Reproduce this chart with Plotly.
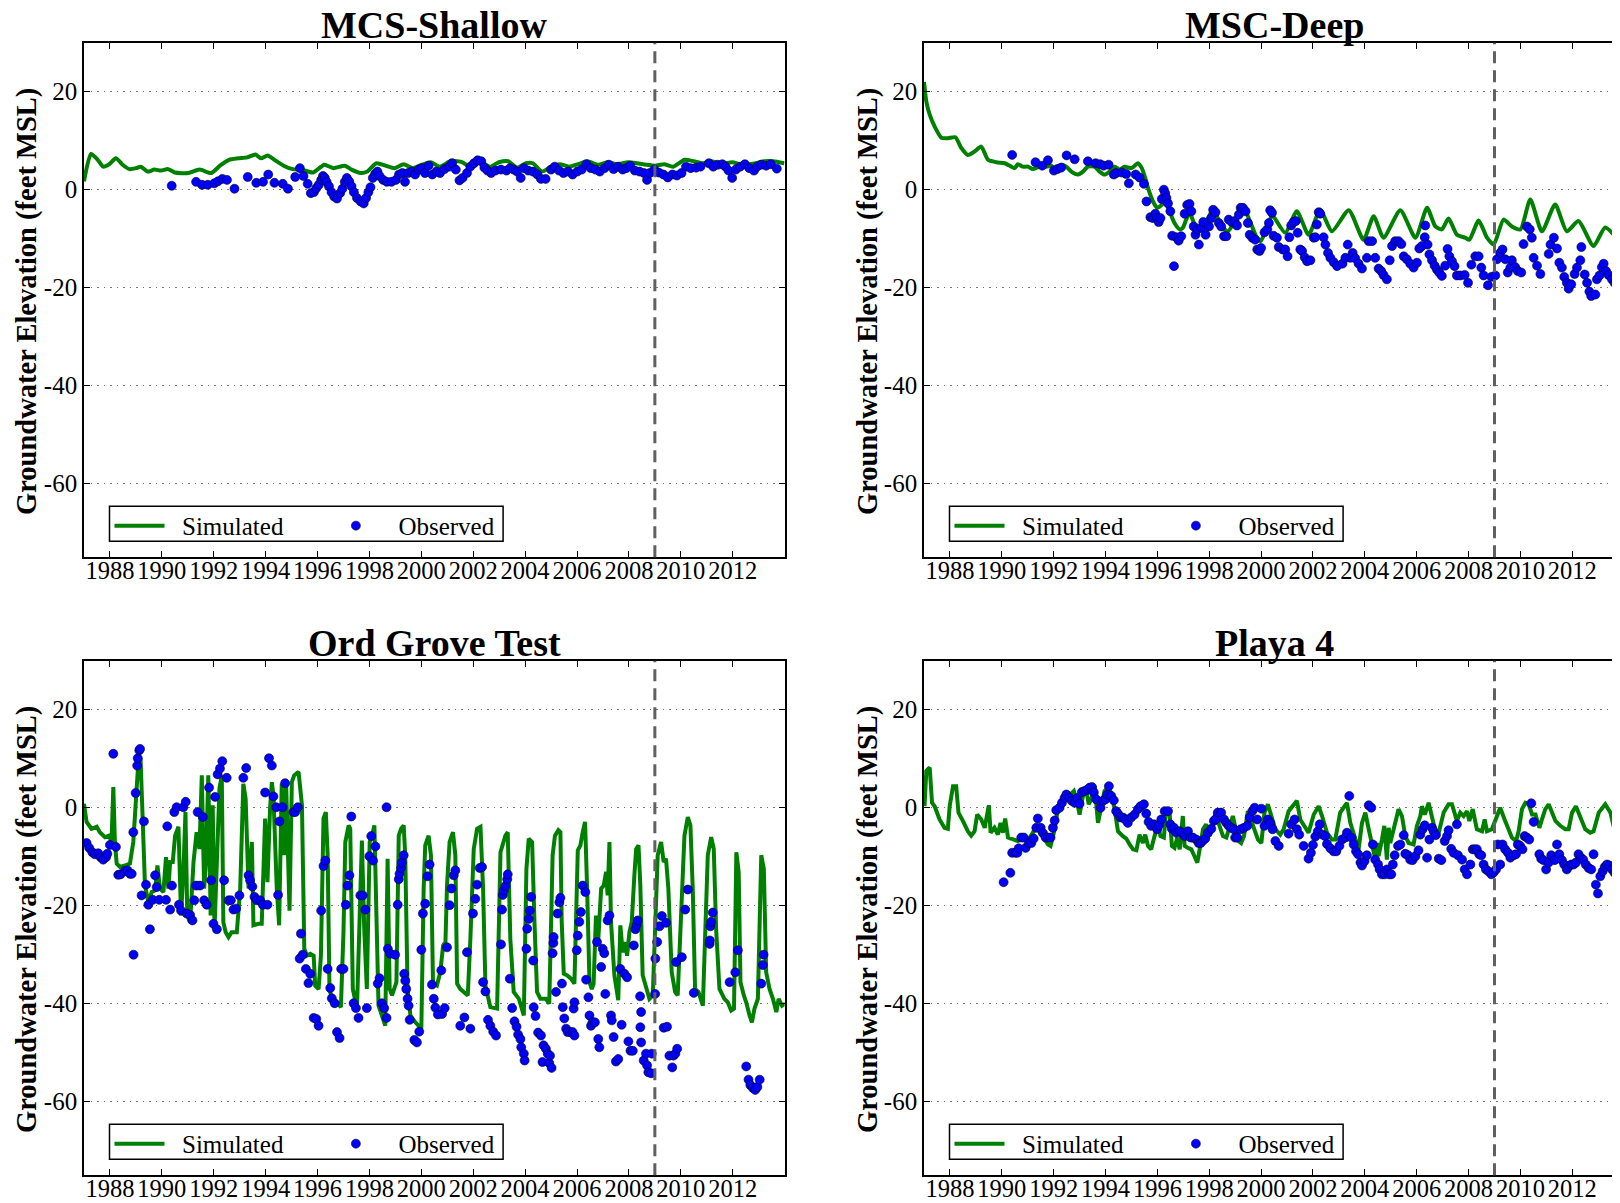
import plotly.graph_objects as go

# ---------------- data (decimal year, feet MSL) ----------------
titles = ["MCS-Shallow", "MSC-Deep", "Ord Grove Test", "Playa 4"]
year_ticks = [1988, 1990, 1992, 1994, 1996, 1998, 2000, 2002, 2004, 2006, 2008, 2010, 2012]
elev_ticks = [20, 0, -20, -40, -60]
split_year = 2009.0

mcs_shallow_sim = [
    (1987.00, 1.7), (1987.27, 7.3), (1987.53, 6.1), (1987.74, 4.7), (1987.97, 5.2), (1988.23, 6.4),
    (1988.49, 5.1), (1988.75, 4.2), (1989.01, 4.4), (1989.19, 4.7), (1989.45, 3.7), (1989.71, 4.1),
    (1989.97, 3.9), (1990.24, 4.2), (1990.50, 3.5), (1991.02, 3.4), (1991.46, 4.1), (1991.90, 3.4),
    (1992.24, 4.9), (1992.59, 6.1), (1992.94, 6.4), (1993.29, 6.6), (1993.61, 7.2), (1993.82, 6.4),
    (1994.08, 7.0), (1994.34, 6.1), (1994.69, 4.9), (1995.04, 4.2), (1995.39, 4.1), (1995.83, 3.5),
    (1996.26, 5.1), (1996.61, 4.4), (1997.05, 4.9), (1997.31, 4.1), (1997.66, 3.4), (1997.92, 3.7),
    (1998.27, 5.4), (1998.62, 4.9), (1998.97, 4.4), (1999.32, 5.2), (1999.67, 4.4), (2000.02, 5.1),
    (2000.37, 5.6), (2000.72, 4.7), (2001.15, 5.9), (2001.59, 5.6), (2001.85, 4.7), (2002.20, 5.9),
    (2002.64, 4.7), (2002.99, 5.6), (2003.34, 5.8), (2003.69, 4.5), (2004.03, 5.4), (2004.30, 5.4),
    (2004.65, 3.7), (2005.00, 4.7), (2005.34, 5.2), (2005.69, 4.7), (2006.04, 5.2), (2006.39, 5.8),
    (2006.83, 5.1), (2007.18, 5.6), (2007.53, 5.2), (2007.97, 5.6), (2008.31, 5.4), (2008.66, 5.1),
    (2009.01, 4.9), (2009.36, 5.2), (2009.71, 4.7), (2010.15, 6.1), (2010.50, 5.8), (2010.85, 5.4),
    (2011.20, 5.8), (2011.55, 5.2), (2011.98, 5.6), (2012.33, 5.1), (2012.77, 5.3), (2013.21, 5.8),
    (2013.56, 5.8), (2013.99, 5.4),
]
mcs_shallow_obs = [
    (1990.38, 0.8), (1991.32, 1.6), (1991.55, 1.0), (1991.77, 1.0), (1992.02, 1.3), (1992.16, 1.7),
    (1992.33, 2.2), (1992.51, 2.0), (1992.80, 0.2), (1993.31, 2.6), (1993.64, 1.4), (1993.90, 1.6),
    (1994.10, 3.1), (1994.34, 1.4), (1994.66, 1.2), (1994.86, 0.2), (1995.14, 2.6), (1995.32, 4.4),
    (1995.46, 2.8), (1995.62, 1.2), (1995.74, -0.7), (1995.86, -0.5), (1995.95, 0.3), (1996.05, 1.0),
    (1996.14, 2.0), (1996.21, 2.8), (1996.28, 2.4), (1996.35, 1.6), (1996.44, 0.7), (1996.54, -0.5),
    (1996.64, -1.4), (1996.75, -1.8), (1996.87, -0.7), (1996.96, 0.2), (1997.05, 1.6), (1997.13, 2.4),
    (1997.22, 1.7), (1997.31, 0.7), (1997.40, -0.5), (1997.52, -1.7), (1997.66, -2.4), (1997.78, -2.8),
    (1997.87, -1.7), (1997.96, -0.5), (1998.04, 0.5), (1998.13, 2.4), (1998.22, 3.2), (1998.31, 3.7),
    (1998.39, 2.8), (1998.53, 2.0), (1998.67, 1.6), (1998.85, 1.6), (1999.02, 2.0), (1999.14, 3.1),
    (1999.27, 3.4), (1999.37, 1.6), (1999.49, 3.4), (1999.63, 3.7), (1999.76, 3.1), (1999.90, 4.1),
    (2000.02, 4.4), (2000.14, 3.4), (2000.28, 4.9), (2000.42, 3.1), (2000.58, 3.7), (2000.72, 3.4),
    (2000.89, 4.2), (2001.07, 4.7), (2001.19, 5.4), (2001.33, 4.1), (2001.47, 1.9), (2001.59, 2.4),
    (2001.76, 3.4), (2001.89, 4.7), (2002.03, 5.4), (2002.17, 6.0), (2002.31, 5.8), (2002.43, 4.5),
    (2002.55, 3.9), (2002.69, 3.4), (2002.86, 3.9), (2003.07, 4.1), (2003.28, 3.9), (2003.42, 4.4),
    (2003.56, 4.1), (2003.69, 3.7), (2003.83, 2.4), (2003.95, 4.4), (2004.12, 3.9), (2004.30, 3.7),
    (2004.47, 3.1), (2004.61, 2.2), (2004.79, 2.2), (2005.00, 4.1), (2005.14, 4.7), (2005.31, 3.9),
    (2005.48, 3.4), (2005.66, 3.7), (2005.83, 3.1), (2006.01, 3.7), (2006.18, 4.1), (2006.36, 5.2),
    (2006.53, 4.4), (2006.71, 4.1), (2006.88, 3.7), (2007.06, 4.4), (2007.23, 5.1), (2007.41, 4.2),
    (2007.58, 4.7), (2007.76, 4.1), (2007.90, 4.4), (2008.05, 4.9), (2008.23, 3.9), (2008.41, 3.7),
    (2008.58, 3.4), (2008.70, 2.0), (2008.80, 3.4), (2008.98, 4.1), (2009.15, 3.5), (2009.33, 3.1),
    (2009.50, 2.5), (2009.68, 3.1), (2009.85, 2.9), (2010.03, 3.4), (2010.20, 4.7), (2010.38, 4.4),
    (2010.59, 4.5), (2010.76, 4.7), (2011.08, 5.4), (2011.25, 4.7), (2011.42, 5.1), (2011.60, 5.2),
    (2011.72, 4.7), (2011.84, 3.9), (2011.98, 2.4), (2012.12, 4.1), (2012.29, 4.7), (2012.47, 5.2),
    (2012.64, 4.4), (2012.82, 3.9), (2012.94, 4.7), (2013.11, 5.1), (2013.29, 4.9), (2013.47, 5.2),
    (2013.70, 4.3),
]

msc_deep_sim = [
    (1987.00, 22.0), (1987.09, 18.0), (1987.22, 15.3), (1987.41, 12.9), (1987.67, 10.6), (1987.92, 10.5),
    (1988.21, 10.7), (1988.44, 8.5), (1988.69, 7.1), (1988.95, 7.8), (1989.21, 8.8), (1989.47, 6.1),
    (1989.79, 5.6), (1990.11, 5.4), (1990.37, 4.7), (1990.49, 4.4), (1990.62, 5.2), (1990.81, 4.7),
    (1991.01, 4.7), (1991.20, 4.2), (1991.46, 4.7), (1991.71, 4.7), (1991.91, 4.9), (1992.04, 4.3),
    (1992.29, 5.1), (1992.49, 4.7), (1992.68, 3.7), (1992.94, 3.1), (1993.13, 3.7), (1993.32, 4.7),
    (1993.58, 4.7), (1993.77, 3.7), (1993.96, 3.1), (1994.16, 3.7), (1994.35, 4.7), (1994.54, 4.1),
    (1994.74, 4.7), (1995.00, 4.4), (1995.25, 5.4), (1995.40, 4.4), (1995.53, 2.4), (1995.66, 0.0),
    (1995.83, -2.4), (1996.00, -3.7), (1996.17, -3.1), (1996.30, -2.4), (1996.47, -4.4), (1996.66, -6.8),
    (1996.86, -8.1), (1996.98, -7.8), (1997.11, -6.1), (1997.24, -4.7), (1997.41, -6.8), (1997.56, -8.5),
    (1997.76, -7.1), (1997.92, -6.1), (1998.14, -4.1), (1998.33, -5.8), (1998.53, -7.8), (1998.72, -8.5),
    (1998.91, -7.1), (1999.11, -5.1), (1999.26, -3.7), (1999.43, -4.7), (1999.62, -7.1), (1999.81, -9.5),
    (1999.98, -10.5), (2000.16, -8.5), (2000.33, -6.4), (2000.42, -5.1), (2000.93, -8.8), (2001.38, -4.4),
    (2001.83, -9.2), (2002.28, -4.1), (2002.73, -8.5), (2003.38, -4.2), (2003.95, -10.2), (2004.34, -5.4),
    (2004.72, -9.8), (2005.37, -4.2), (2005.95, -9.8), (2006.40, -3.7), (2006.72, -7.5), (2006.97, -8.1),
    (2007.23, -5.9), (2007.55, -9.2), (2007.87, -9.8), (2008.03, -10.2), (2008.39, -6.3), (2008.71, -9.8),
    (2008.97, -11.2), (2009.35, -6.1), (2009.67, -7.5), (2010.00, -8.1), (2010.38, -2.0), (2010.83, -8.5),
    (2011.34, -3.0), (2011.79, -8.5), (2012.24, -6.4), (2012.82, -11.5), (2013.27, -7.7), (2013.79, -10.4),
]
msc_deep_obs = [
    (1990.40, 7.1), (1991.30, 5.6), (1991.56, 4.9), (1991.78, 6.0), (1992.01, 3.9), (1992.14, 4.2),
    (1992.29, 4.5), (1992.50, 7.0), (1992.81, 6.2), (1993.32, 5.8), (1993.62, 5.4), (1993.80, 5.2),
    (1993.93, 4.9), (1994.12, 5.1), (1994.32, 3.1), (1994.41, 3.4), (1994.63, 3.5), (1994.80, 3.2),
    (1994.90, 1.3), (1995.16, 3.1), (1995.31, 2.5), (1995.48, 1.2), (1995.58, -2.4), (1995.73, -5.6),
    (1995.83, -5.8), (1995.92, -4.9), (1995.99, -5.8), (1996.05, -6.6), (1996.12, -5.8), (1996.17, -1.9),
    (1996.25, 0.0), (1996.30, -0.7), (1996.35, -1.7), (1996.41, -2.8), (1996.50, -4.4), (1996.57, -9.4),
    (1996.64, -15.6), (1996.73, -9.7), (1996.82, -10.4), (1996.92, -9.5), (1997.05, -4.9), (1997.15, -3.1),
    (1997.24, -2.9), (1997.31, -4.4), (1997.40, -7.5), (1997.47, -9.2), (1997.54, -8.1), (1997.60, -11.2),
    (1997.69, -7.8), (1997.77, -6.6), (1997.86, -9.2), (1997.99, -7.5), (1998.08, -5.8), (1998.15, -4.1),
    (1998.24, -4.6), (1998.37, -6.8), (1998.46, -7.5), (1998.57, -9.5), (1998.66, -9.5), (1998.75, -6.1),
    (1998.87, -6.6), (1998.98, -6.4), (1999.07, -7.3), (1999.14, -5.1), (1999.21, -3.7), (1999.30, -3.7),
    (1999.40, -4.4), (1999.49, -6.8), (1999.56, -9.2), (1999.66, -9.8), (1999.77, -10.2), (1999.85, -12.2),
    (1999.94, -12.5), (2000.00, -11.9), (2000.13, -8.7), (2000.24, -8.1), (2000.30, -6.8), (2000.35, -4.2),
    (2000.42, -4.7), (2000.48, -9.4), (2000.61, -9.8), (2000.68, -11.7), (2000.83, -12.2), (2000.93, -12.2),
    (2001.02, -13.6), (2001.09, -9.7), (2001.16, -7.3), (2001.25, -6.6), (2001.34, -6.4), (2001.41, -8.8),
    (2001.51, -12.2), (2001.58, -12.5), (2001.68, -13.8), (2001.77, -14.6), (2001.90, -14.4), (2002.03, -9.8),
    (2002.09, -9.7), (2002.15, -7.1), (2002.22, -4.6), (2002.28, -4.9), (2002.41, -9.7), (2002.48, -11.2),
    (2002.58, -12.9), (2002.67, -13.9), (2002.80, -14.8), (2002.93, -15.6), (2003.14, -15.1), (2003.25, -13.9),
    (2003.34, -11.2), (2003.44, -13.9), (2003.53, -12.9), (2003.63, -14.0), (2003.76, -15.1), (2003.89, -16.1),
    (2004.08, -13.9), (2004.15, -10.5), (2004.28, -10.5), (2004.40, -13.9), (2004.53, -16.1), (2004.63, -16.6),
    (2004.72, -17.4), (2004.85, -18.3), (2004.96, -14.4), (2005.05, -11.5), (2005.17, -10.5), (2005.30, -10.5),
    (2005.41, -11.1), (2005.50, -13.6), (2005.62, -14.2), (2005.75, -15.1), (2005.88, -15.9), (2006.01, -14.9),
    (2006.10, -12.0), (2006.20, -11.5), (2006.31, -9.7), (2006.33, -7.3), (2006.42, -11.2), (2006.49, -13.2),
    (2006.59, -14.4), (2006.69, -15.5), (2006.78, -16.3), (2006.87, -16.9), (2006.97, -17.6), (2007.10, -15.5),
    (2007.19, -12.1), (2007.26, -13.6), (2007.36, -14.6), (2007.46, -15.6), (2007.55, -17.5), (2007.68, -17.5),
    (2007.85, -17.4), (2007.98, -19.0), (2008.11, -15.3), (2008.26, -13.6), (2008.39, -13.6), (2008.49, -15.9),
    (2008.58, -17.5), (2008.75, -19.5), (2008.88, -17.8), (2009.03, -17.5), (2009.10, -14.2), (2009.22, -12.9),
    (2009.31, -12.2), (2009.42, -14.2), (2009.51, -16.9), (2009.61, -15.9), (2009.67, -14.4), (2009.80, -15.8),
    (2009.90, -16.6), (2010.03, -16.9), (2010.12, -11.1), (2010.25, -7.5), (2010.36, -8.1), (2010.44, -9.8),
    (2010.51, -13.9), (2010.64, -15.5), (2010.77, -17.2), (2011.09, -13.1), (2011.16, -11.2), (2011.29, -9.8),
    (2011.41, -12.0), (2011.50, -14.9), (2011.60, -15.9), (2011.69, -17.8), (2011.79, -19.0), (2011.86, -20.2),
    (2011.96, -19.3), (2012.09, -17.2), (2012.18, -15.9), (2012.31, -14.4), (2012.35, -11.7), (2012.48, -17.3),
    (2012.57, -19.0), (2012.66, -20.8), (2012.73, -21.7), (2012.89, -21.4), (2012.95, -18.3), (2013.05, -17.5),
    (2013.14, -15.8), (2013.21, -15.1), (2013.30, -16.6), (2013.40, -17.4), (2013.53, -18.3), (2013.63, -19.0),
    (2013.72, -19.7),
]

ord_grove_sim = [
    (1987.00, 0.8), (1987.10, -2.9), (1987.29, -4.3), (1987.49, -3.9), (1987.61, -5.0), (1987.81, -6.0),
    (1987.97, -5.7), (1988.06, -7.0), (1988.13, 4.2), (1988.19, -7.0), (1988.26, -11.4), (1988.39, -12.1),
    (1988.58, -11.8), (1988.77, -11.4), (1988.90, -7.0), (1989.03, 3.9), (1989.11, 10.7), (1989.18, 10.0),
    (1989.26, -1.6), (1989.35, -15.9), (1989.48, -19.3), (1989.61, -17.2), (1989.74, -16.9), (1989.83, -11.8),
    (1989.93, -16.5), (1990.06, -17.2), (1990.16, -10.1), (1990.25, -16.5), (1990.32, -11.1), (1990.42, -11.1),
    (1990.51, -5.7), (1990.64, -3.9), (1990.74, -22.0), (1990.83, -13.1), (1990.91, -0.9), (1990.98, -22.0),
    (1991.09, -23.4), (1991.22, -11.1), (1991.34, -5.0), (1991.45, -8.4), (1991.54, 6.6), (1991.63, -16.5),
    (1991.70, -11.1), (1991.79, 6.6), (1991.88, -22.0), (1991.96, 0.5), (1992.03, -24.7), (1992.12, -9.7),
    (1992.22, 3.9), (1992.31, 6.6), (1992.37, -23.4), (1992.46, -25.4), (1992.57, -26.4), (1992.69, -25.4),
    (1992.89, -25.4), (1993.02, -16.5), (1993.14, 4.9), (1993.23, 1.8), (1993.34, -16.5), (1993.47, -7.0),
    (1993.53, -24.0), (1993.72, -23.7), (1993.85, -23.7), (1993.98, -2.2), (1994.07, -15.2), (1994.17, -0.2),
    (1994.24, 5.2), (1994.30, 2.5), (1994.43, -16.5), (1994.52, -24.0), (1994.62, 4.9), (1994.71, -9.7),
    (1994.79, 4.9), (1994.92, -21.0), (1995.01, 5.2), (1995.10, 6.6), (1995.27, 7.3), (1995.40, 0.5),
    (1995.49, -28.8), (1995.59, -30.2), (1995.72, -29.8), (1995.85, -30.2), (1995.91, -36.3), (1996.04, -37.0),
    (1996.13, -30.2), (1996.23, -2.2), (1996.32, -0.9), (1996.39, -9.7), (1996.46, -37.0), (1996.55, -39.0),
    (1996.75, -39.7), (1996.90, -40.7), (1997.00, -25.4), (1997.07, -7.0), (1997.20, -3.6), (1997.26, -4.3),
    (1997.36, -37.0), (1997.52, -41.0), (1997.62, -23.3), (1997.71, -6.7), (1997.80, -24.7), (1997.90, -37.0),
    (1998.01, -7.0), (1998.10, -5.7), (1998.19, -3.6), (1998.26, -17.9), (1998.35, -40.4), (1998.48, -42.4),
    (1998.61, -44.5), (1998.70, -10.4), (1998.78, -37.0), (1998.87, -38.3), (1999.04, -35.6), (1999.13, -5.7),
    (1999.22, -4.3), (1999.32, -3.6), (1999.38, -9.7), (1999.47, -37.0), (1999.58, -42.4), (1999.77, -43.8),
    (1999.90, -44.5), (2000.00, -45.1), (2000.09, -16.5), (2000.15, -7.7), (2000.28, -5.7), (2000.37, -9.7),
    (2000.45, -35.9), (2000.60, -36.3), (2000.73, -33.6), (2000.84, -28.1), (2000.93, -27.4), (2000.99, -15.9),
    (2001.09, -7.0), (2001.22, -5.0), (2001.31, -9.7), (2001.38, -35.9), (2001.50, -37.0), (2001.63, -37.6),
    (2001.79, -38.3), (2001.89, -26.8), (2002.02, -8.4), (2002.15, -4.3), (2002.28, -3.9), (2002.38, -16.5),
    (2002.47, -36.3), (2002.66, -40.7), (2002.82, -41.0), (2002.92, -41.0), (2003.05, -9.1), (2003.24, -5.7),
    (2003.33, -5.0), (2003.43, -26.8), (2003.56, -37.6), (2003.76, -39.0), (2003.95, -42.4), (2004.05, -12.5),
    (2004.14, -6.3), (2004.27, -7.0), (2004.36, -23.3), (2004.46, -37.6), (2004.59, -39.0), (2004.80, -39.0),
    (2004.93, -40.0), (2005.06, -9.7), (2005.15, -5.7), (2005.28, -4.6), (2005.36, -5.0), (2005.41, -23.3),
    (2005.49, -33.9), (2005.61, -34.2), (2005.77, -34.9), (2005.90, -35.9), (2006.03, -8.7), (2006.13, -7.7),
    (2006.22, -5.0), (2006.31, -2.9), (2006.39, -16.5), (2006.48, -35.6), (2006.57, -37.0), (2006.64, -35.9),
    (2006.73, -22.0), (2006.82, -26.8), (2006.93, -16.5), (2007.03, -15.9), (2007.12, -13.1), (2007.18, -17.9),
    (2007.25, -7.0), (2007.31, -23.3), (2007.44, -34.2), (2007.59, -39.3), (2007.67, -24.0), (2007.76, -29.5),
    (2007.85, -27.4), (2007.93, -30.2), (2008.02, -25.4), (2008.11, -23.3), (2008.21, -13.8), (2008.28, -8.4),
    (2008.37, -7.7), (2008.44, -15.9), (2008.53, -34.2), (2008.66, -37.0), (2008.79, -39.0), (2008.92, -38.3),
    (2009.01, -25.4), (2009.11, -9.7), (2009.24, -7.0), (2009.34, -11.1), (2009.43, -10.4), (2009.52, -16.5),
    (2009.65, -33.6), (2009.78, -37.6), (2009.88, -38.3), (2010.01, -22.0), (2010.14, -5.7), (2010.27, -1.9),
    (2010.37, -3.6), (2010.46, -16.5), (2010.55, -37.0), (2010.68, -37.6), (2010.85, -40.4), (2011.04, -9.7),
    (2011.17, -6.0), (2011.27, -8.4), (2011.36, -24.7), (2011.49, -37.0), (2011.68, -39.0), (2011.81, -39.7),
    (2011.94, -41.4), (2012.05, -41.0), (2012.14, -9.1), (2012.23, -13.1), (2012.30, -35.6), (2012.43, -38.3),
    (2012.52, -39.7), (2012.65, -42.4), (2012.74, -43.8), (2012.84, -41.0), (2012.97, -39.0), (2013.10, -9.7),
    (2013.20, -12.5), (2013.29, -33.6), (2013.42, -37.0), (2013.55, -39.0), (2013.68, -41.7), (2013.77, -39.0),
    (2013.90, -40.4), (2014.03, -40.0),
]
ord_grove_obs = [
    (1987.10, -7.2), (1987.20, -8.2), (1987.32, -9.1), (1987.42, -9.5), (1987.55, -9.3), (1987.64, -10.1),
    (1987.74, -10.6), (1987.85, -10.1), (1987.90, -9.4), (1988.00, -7.6), (1988.13, 11.0), (1988.23, -8.0),
    (1988.32, -13.7), (1988.41, -13.6), (1988.58, -12.9), (1988.68, -12.8), (1988.77, -13.5), (1988.84, -13.5),
    (1988.90, -5.0), (1988.91, -30.0), (1988.99, 3.0), (1989.05, 8.6), (1989.07, 10.1), (1989.13, 11.7),
    (1989.16, 12.0), (1989.22, -17.9), (1989.31, -2.8), (1989.39, -15.7), (1989.48, -19.8), (1989.54, -24.8),
    (1989.65, -18.8), (1989.74, -13.8), (1989.80, -16.2), (1989.90, -18.8), (1990.16, -18.8), (1990.21, -3.8),
    (1990.32, -20.8), (1990.39, -15.9), (1990.48, -0.9), (1990.57, 0.1), (1990.66, -19.8), (1990.74, -21.0),
    (1990.83, 0.1), (1990.92, 1.2), (1990.96, -21.6), (1991.09, -21.9), (1991.18, -23.0), (1991.25, -18.9),
    (1991.32, -15.9), (1991.38, -0.9), (1991.47, -15.9), (1991.58, -1.9), (1991.63, -18.9), (1991.73, -19.8),
    (1991.82, 4.1), (1991.90, -14.8), (1991.99, -23.7), (1992.05, 2.2), (1992.12, -24.8), (1992.15, 6.8),
    (1992.24, 8.0), (1992.33, 9.5), (1992.40, -14.8), (1992.50, 6.1), (1992.57, -18.9), (1992.66, -18.9),
    (1992.76, -20.8), (1992.86, -20.6), (1992.99, -17.9), (1993.14, 6.1), (1993.25, 8.1), (1993.34, -13.8),
    (1993.40, -14.8), (1993.49, -16.1), (1993.57, -18.2), (1993.66, -18.9), (1993.79, -18.9), (1993.89, -19.8),
    (1993.98, 3.1), (1994.07, -19.8), (1994.13, 10.1), (1994.24, 8.6), (1994.30, 2.3), (1994.41, 0.1),
    (1994.48, -17.8), (1994.53, -2.8), (1994.65, 0.1), (1994.75, 5.0), (1995.07, -0.9), (1995.14, -0.9),
    (1995.24, 0.1), (1995.31, -30.8), (1995.36, -25.7), (1995.43, -30.0), (1995.55, -32.9), (1995.65, -35.8),
    (1995.72, -33.9), (1995.85, -42.9), (1995.95, -43.1), (1996.04, -44.5), (1996.14, -21.0), (1996.23, -11.9),
    (1996.30, -10.8), (1996.39, -32.9), (1996.49, -36.8), (1996.55, -38.9), (1996.66, -39.9), (1996.75, -45.8),
    (1996.85, -47.0), (1996.91, -32.9), (1997.00, -32.9), (1997.09, -19.8), (1997.16, -15.9), (1997.23, -13.8),
    (1997.30, -1.8), (1997.39, -39.9), (1997.48, -40.9), (1997.58, -42.9), (1997.65, -17.9), (1997.74, -17.9),
    (1997.84, -20.8), (1997.90, -40.9), (1998.00, -9.9), (1998.07, -5.8), (1998.14, -10.8), (1998.23, -7.9),
    (1998.32, -35.9), (1998.39, -34.8), (1998.48, -39.9), (1998.57, -40.9), (1998.66, -42.9), (1998.66, 0.1),
    (1998.71, -28.8), (1998.80, -29.8), (1998.99, -30.0), (1999.09, -19.8), (1999.13, -14.6), (1999.16, -13.5),
    (1999.22, -12.3), (1999.25, -11.2), (1999.32, -9.7), (1999.34, -33.9), (1999.38, -35.3), (1999.42, -37.0),
    (1999.47, -39.0), (1999.51, -40.4), (1999.55, -43.3), (1999.73, -47.4), (1999.83, -47.9), (1999.92, -45.7),
    (2000.00, -29.0), (2000.06, -21.6), (2000.15, -19.6), (2000.24, -14.0), (2000.32, -11.6), (2000.41, -36.1),
    (2000.48, -39.0), (2000.54, -40.8), (2000.64, -42.2), (2000.77, -33.2), (2000.80, -42.1), (2000.90, -40.9),
    (2000.99, -28.5), (2001.09, -19.9), (2001.16, -16.5), (2001.25, -13.8), (2001.31, -12.8), (2001.50, -44.5),
    (2001.66, -42.8), (2001.76, -29.5), (2001.89, -45.1), (2001.99, -21.6), (2002.08, -18.6), (2002.15, -15.7),
    (2002.25, -12.3), (2002.34, -12.1), (2002.38, -35.6), (2002.47, -37.5), (2002.57, -43.3), (2002.66, -44.5),
    (2002.77, -45.7), (2002.88, -46.5), (2003.07, -27.9), (2003.11, -20.8), (2003.14, -17.8), (2003.18, -16.9),
    (2003.24, -16.0), (2003.31, -14.6), (2003.33, -13.6), (2003.41, -34.9), (2003.50, -40.9), (2003.59, -43.6),
    (2003.67, -44.7), (2003.73, -46.3), (2003.82, -47.2), (2003.85, -48.9), (2003.95, -50.2), (2003.98, -51.6),
    (2004.05, -28.8), (2004.08, -24.7), (2004.14, -22.7), (2004.18, -21.0), (2004.23, -18.2), (2004.31, -31.2),
    (2004.33, -40.7), (2004.40, -42.5), (2004.50, -45.9), (2004.61, -46.5), (2004.67, -51.9), (2004.71, -48.5),
    (2004.80, -49.2), (2004.87, -50.2), (2004.93, -52.1), (2004.96, -50.6), (2005.02, -53.1), (2005.06, -29.7),
    (2005.09, -27.6), (2005.10, -26.4), (2005.19, -37.6), (2005.25, -21.6), (2005.32, -19.3), (2005.36, -18.4),
    (2005.42, -35.9), (2005.45, -40.7), (2005.51, -43.0), (2005.58, -45.1), (2005.64, -45.8), (2005.74, -45.8),
    (2005.83, -45.8), (2005.87, -41.0), (2005.90, -46.5), (2005.90, -39.7), (2005.99, -29.1), (2006.03, -26.1),
    (2006.09, -23.3), (2006.15, -21.3), (2006.22, -15.9), (2006.32, -17.2), (2006.35, -35.1), (2006.44, -38.7),
    (2006.48, -42.4), (2006.54, -44.5), (2006.60, -43.8), (2006.69, -43.8), (2006.77, -27.4), (2006.82, -47.2),
    (2006.86, -48.9), (2006.93, -32.5), (2006.99, -28.8), (2007.05, -29.7), (2007.09, -38.0), (2007.18, -23.0),
    (2007.25, -22.0), (2007.31, -42.4), (2007.34, -43.4), (2007.41, -46.8), (2007.50, -51.8), (2007.59, -51.3),
    (2007.67, -32.9), (2007.72, -44.3), (2007.83, -33.9), (2007.93, -34.6), (2007.98, -47.7), (2008.06, -49.6),
    (2008.15, -49.6), (2008.19, -28.1), (2008.25, -24.8), (2008.30, -23.9), (2008.34, -23.0), (2008.43, -38.5),
    (2008.44, -44.8), (2008.47, -41.7), (2008.47, -47.9), (2008.57, -51.6), (2008.66, -50.2), (2008.70, -52.6),
    (2008.75, -54.0), (2008.86, -54.2), (2008.88, -50.2), (2009.01, -38.0), (2009.02, -30.8), (2009.09, -27.4),
    (2009.18, -24.2), (2009.27, -22.1), (2009.34, -44.9), (2009.43, -23.5), (2009.47, -44.7), (2009.56, -50.6),
    (2009.67, -53.0), (2009.72, -50.6), (2009.79, -50.2), (2009.82, -31.5), (2009.86, -49.2), (2010.04, -30.5),
    (2010.17, -20.8), (2010.27, -16.7), (2010.50, -37.8), (2011.11, -27.8), (2011.12, -27.1), (2011.14, -24.2),
    (2011.17, -23.3), (2011.23, -21.4), (2011.88, -35.6), (2012.10, -33.6), (2012.20, -29.1), (2012.52, -52.8),
    (2012.61, -55.5), (2012.68, -56.6), (2012.78, -57.2), (2012.87, -57.6), (2012.95, -57.0), (2013.04, -55.5),
    (2013.10, -35.9), (2013.16, -32.1), (2013.19, -30.0),
]

playa4_sim = [
    (1987.02, 0.3), (1987.09, 7.5), (1987.22, 8.2), (1987.31, 1.0), (1987.41, 0.3), (1987.60, -2.4),
    (1987.79, -4.1), (1987.92, -4.3), (1987.99, 0.3), (1988.12, 4.4), (1988.24, 4.4), (1988.33, -1.0),
    (1988.50, -2.7), (1988.69, -4.8), (1988.82, -5.7), (1988.95, -4.8), (1989.05, -1.4), (1989.21, -2.4),
    (1989.34, -4.1), (1989.50, 0.5), (1989.57, -5.1), (1989.72, -4.1), (1989.85, -5.5), (1989.95, -3.1),
    (1990.04, -5.1), (1990.13, -2.2), (1990.24, -6.1), (1990.43, -6.5), (1990.62, -6.8), (1990.81, -6.1),
    (1990.99, -6.8), (1991.20, -5.1), (1991.33, -3.7), (1991.46, -5.1), (1991.62, -6.1), (1991.78, -7.5),
    (1991.88, -7.8), (1992.04, -4.4), (1992.16, -0.3), (1992.33, 1.7), (1992.49, 3.1), (1992.65, 2.7),
    (1992.78, 3.4), (1992.91, 1.0), (1993.00, -1.4), (1993.13, 2.4), (1993.26, 3.7), (1993.35, 0.7),
    (1993.45, 1.7), (1993.58, 4.4), (1993.71, -3.1), (1993.84, 0.3), (1993.96, 3.4), (1994.09, 4.1),
    (1994.22, 3.1), (1994.35, -0.3), (1994.48, -4.8), (1994.67, -5.8), (1994.80, -6.3), (1994.93, -7.5),
    (1995.06, -8.5), (1995.19, -8.7), (1995.31, -5.5), (1995.44, -7.2), (1995.53, -5.5), (1995.64, -7.8),
    (1995.76, -8.5), (1995.89, -5.8), (1996.02, -3.4), (1996.12, -5.8), (1996.25, -6.1), (1996.34, -0.3),
    (1996.47, -1.0), (1996.56, -7.8), (1996.66, -8.2), (1996.77, -6.1), (1996.86, -8.5), (1996.98, -1.7),
    (1997.05, -7.8), (1997.18, -8.2), (1997.31, -8.5), (1997.43, -9.9), (1997.54, -11.2), (1997.63, -8.5),
    (1997.76, -4.4), (1997.88, -3.4), (1998.01, -5.8), (1998.14, -3.7), (1998.24, -1.0), (1998.33, -2.7),
    (1998.44, -4.4), (1998.53, -5.8), (1998.66, -6.1), (1998.78, -3.7), (1998.91, -1.7), (1999.04, -4.8),
    (1999.13, -6.8), (1999.23, -7.2), (1999.34, -5.8), (1999.49, -0.7), (1999.62, -2.7), (1999.75, -4.4),
    (1999.88, -6.5), (2000.01, -7.2), (2000.13, -1.0), (2000.26, 0.7), (2000.40, -2.0), (2000.55, -4.4),
    (2000.74, -5.5), (2000.87, -4.4), (2001.06, -0.7), (2001.25, 0.7), (2001.38, 1.4), (2001.51, -2.4),
    (2001.70, -4.1), (2001.83, -5.1), (2002.03, -1.4), (2002.22, 0.3), (2002.35, -1.7), (2002.54, -5.1),
    (2002.73, -6.5), (2002.86, -6.5), (2003.05, -1.0), (2003.31, 1.0), (2003.44, -3.1), (2003.63, -6.1),
    (2003.76, -8.5), (2003.89, -3.1), (2004.02, -1.0), (2004.15, -4.4), (2004.28, -7.8), (2004.38, -9.9),
    (2004.47, -7.2), (2004.53, -9.9), (2004.66, -6.5), (2004.75, -3.7), (2004.85, -10.6), (2004.92, -4.1),
    (2004.98, -7.2), (2005.11, -4.4), (2005.30, -0.3), (2005.43, -1.7), (2005.56, -5.8), (2005.69, -7.2),
    (2005.88, -7.5), (2006.01, -3.7), (2006.14, -1.7), (2006.20, 0.3), (2006.31, -1.4), (2006.46, 1.0),
    (2006.59, -1.7), (2006.72, -4.8), (2006.85, -5.1), (2007.04, -1.0), (2007.23, 0.7), (2007.36, 0.7),
    (2007.55, -2.7), (2007.68, -1.0), (2007.81, -1.7), (2007.94, -0.7), (2008.03, -2.7), (2008.16, -0.3),
    (2008.32, -4.4), (2008.52, -4.8), (2008.62, -2.4), (2008.71, -4.8), (2008.90, -4.4), (2009.06, -2.4),
    (2009.22, 0.0), (2009.39, -2.4), (2009.52, -4.4), (2009.67, -6.1), (2009.83, -6.8), (2009.93, -4.8),
    (2010.06, -0.3), (2010.19, 1.0), (2010.32, 0.7), (2010.45, -1.4), (2010.58, -1.4), (2010.73, -4.1),
    (2010.83, -2.4), (2010.96, -0.3), (2011.09, 0.7), (2011.22, -1.0), (2011.35, -2.7), (2011.54, -3.7),
    (2011.73, -4.4), (2011.86, -4.4), (2011.99, -1.0), (2012.14, 0.3), (2012.31, -1.7), (2012.50, -4.4),
    (2012.69, -5.1), (2012.82, -4.8), (2013.02, -1.0), (2013.27, 0.7), (2013.47, -1.0), (2013.59, -3.7),
    (2013.79, -4.4), (2013.92, -4.8),
]
playa4_obs = [
    (1990.07, -15.2), (1990.33, -13.3), (1990.40, -9.2), (1990.53, -9.2), (1990.60, -9.2), (1990.65, -8.3),
    (1990.75, -6.1), (1990.85, -6.1), (1990.92, -8.2), (1991.05, -7.2), (1991.14, -7.2), (1991.23, -6.3),
    (1991.33, -4.1), (1991.39, -2.2), (1991.50, -4.1), (1991.59, -5.2), (1991.69, -6.1), (1991.78, -6.1),
    (1991.88, -6.1), (1991.97, -4.1), (1992.04, -2.6), (1992.10, -0.5), (1992.23, 0.0), (1992.32, 1.0),
    (1992.42, 2.0), (1992.49, 2.7), (1992.61, 2.0), (1992.70, 1.4), (1992.81, 1.0), (1992.91, 2.0),
    (1993.00, 0.8), (1993.09, 3.2), (1993.19, 3.4), (1993.30, 3.7), (1993.39, 4.1), (1993.48, 4.2),
    (1993.55, 3.1), (1993.64, 1.7), (1993.81, 0.0), (1993.90, 1.4), (1994.00, 1.7), (1994.07, 2.7),
    (1994.13, 4.4), (1994.22, 2.4), (1994.32, 1.5), (1994.41, -0.7), (1994.48, -1.2), (1994.57, -2.0),
    (1994.67, -2.0), (1994.76, -2.4), (1994.86, -3.1), (1994.99, -2.0), (1995.12, -1.4), (1995.25, -0.3),
    (1995.35, 0.3), (1995.48, 0.7), (1995.57, -1.2), (1995.66, -2.9), (1995.76, -3.7), (1995.87, -3.4),
    (1995.99, -4.4), (1996.06, -3.6), (1996.15, -2.4), (1996.28, -0.7), (1996.41, -0.7), (1996.50, -3.4),
    (1996.56, -4.3), (1996.64, -4.1), (1996.73, -5.1), (1996.86, -4.8), (1996.95, -5.1), (1997.05, -5.8),
    (1997.18, -4.8), (1997.28, -6.1), (1997.37, -6.1), (1997.50, -6.5), (1997.59, -7.2), (1997.67, -7.2),
    (1997.76, -6.7), (1997.85, -6.3), (1997.95, -5.1), (1998.08, -4.3), (1998.18, -2.7), (1998.24, -2.4),
    (1998.33, -1.0), (1998.46, -1.0), (1998.57, -2.4), (1998.66, -3.1), (1998.75, -3.7), (1998.85, -4.1),
    (1998.95, -4.4), (1999.00, -6.1), (1999.08, -6.1), (1999.21, -4.4), (1999.34, -4.1), (1999.47, -3.7),
    (1999.56, -2.0), (1999.66, -0.7), (1999.75, 0.0), (1999.85, -2.4), (2000.01, -0.2), (2000.13, -3.7),
    (2000.26, -2.4), (2000.35, -3.1), (2000.44, -4.4), (2000.55, -6.8), (2000.68, -7.8), (2001.06, -5.3),
    (2001.16, -3.4), (2001.29, -2.4), (2001.38, -4.4), (2001.47, -5.5), (2001.64, -7.8), (2001.83, -10.4),
    (2001.92, -9.2), (2002.00, -7.6), (2002.09, -5.9), (2002.19, -4.8), (2002.26, -3.4), (2002.37, -5.5),
    (2002.47, -5.8), (2002.54, -7.4), (2002.67, -8.3), (2002.80, -8.9), (2002.90, -8.9), (2003.02, -7.8),
    (2003.12, -6.5), (2003.25, -6.1), (2003.31, -5.1), (2003.40, 2.4), (2003.48, -6.1), (2003.57, -7.5),
    (2003.66, -8.9), (2003.74, -9.5), (2003.83, -11.2), (2003.89, -11.8), (2003.99, -10.9), (2004.08, -9.7),
    (2004.15, 0.5), (2004.25, 0.0), (2004.31, -7.5), (2004.40, -10.6), (2004.51, -11.6), (2004.57, -12.6),
    (2004.66, -13.6), (2004.76, -13.6), (2004.85, -12.6), (2004.94, -13.6), (2005.02, -13.6), (2005.08, -11.6),
    (2005.15, -9.7), (2005.28, -7.8), (2005.37, -7.5), (2005.50, -5.6), (2005.56, -9.4), (2005.66, -9.7),
    (2005.75, -10.6), (2005.84, -10.7), (2005.95, -9.9), (2006.07, -8.7), (2006.14, -5.5), (2006.23, -4.4),
    (2006.31, -3.6), (2006.40, -10.2), (2006.49, -6.5), (2006.59, -4.1), (2006.65, -4.8), (2006.74, -5.6),
    (2006.85, -10.4), (2006.95, -10.7), (2007.08, -6.8), (2007.17, -5.8), (2007.23, -4.6), (2007.33, -8.4),
    (2007.42, -9.2), (2007.55, -3.4), (2007.59, -9.7), (2007.75, -10.6), (2007.85, -12.6), (2007.94, -13.6),
    (2008.07, -11.6), (2008.16, -8.5), (2008.24, -8.5), (2008.32, -8.5), (2008.41, -9.5), (2008.49, -9.7),
    (2008.58, -11.6), (2008.67, -12.6), (2008.77, -13.0), (2008.88, -13.6), (2008.97, -13.2), (2009.06, -12.6),
    (2009.13, -7.5), (2009.22, -11.6), (2009.31, -7.5), (2009.41, -8.5), (2009.52, -9.2), (2009.61, -10.2),
    (2009.74, -9.7), (2009.83, -9.5), (2009.90, -7.5), (2009.99, -7.8), (2010.08, -8.5), (2010.16, -5.8),
    (2010.25, -6.1), (2010.34, -6.5), (2010.42, 0.9), (2010.51, -2.9), (2010.73, -9.5), (2010.80, -10.4),
    (2010.89, -10.7), (2010.99, -12.6), (2011.09, -11.2), (2011.19, -9.7), (2011.32, -10.7), (2011.41, -7.5),
    (2011.50, -9.5), (2011.60, -10.7), (2011.69, -11.6), (2011.79, -12.6), (2011.88, -11.9), (2011.96, -11.6),
    (2012.05, -11.6), (2012.14, -11.2), (2012.24, -9.5), (2012.33, -10.2), (2012.42, -10.6), (2012.52, -11.6),
    (2012.63, -12.3), (2012.73, -12.6), (2012.82, -9.5), (2012.91, -15.7), (2012.99, -17.5), (2013.08, -14.0),
    (2013.17, -13.0), (2013.25, -12.1), (2013.34, -11.6), (2013.43, -11.8), (2013.53, -12.6), (2013.63, -13.3),
    (2013.72, -11.6), (2013.85, -14.0),
]

series = [
    (mcs_shallow_sim, mcs_shallow_obs),
    (msc_deep_sim, msc_deep_obs),
    (ord_grove_sim, ord_grove_obs),
    (playa4_sim, playa4_obs),
]
smooth_panels = [True, True, False, False]

# ---------------- layout geometry ----------------
# The page body keeps the browser's default 8px margin, so the figure is
# 8px smaller and every pixel position below is (reference pixel - 8).
W, H = 1612, 1195
FONT = "Liberation Serif, Times New Roman, serif"
GREEN = "#008000"
BLUE = "#0000ff"
NB = "\u00a0"

col_px = [(76.0, 776.6), (916.0, 1612.0)]
row_px = [(34.7, 549.2), (652.7, 1167.2)]
x_ranges = [[1987.0, 2014.0], [1987.0, 2013.84]]
legend_box = (101.5, 495.1, 498.2, 533.3)  # left, right, top, bottom (px) for the first panel


def dom_x(a, b):
    return [a / W, b / W]


def dom_y(top, bot):
    return [1 - bot / H, 1 - top / H]


fig = go.Figure()
annotations = []
shapes = []
layout = {}

for i, (sim, obs) in enumerate(series):
    r, c = divmod(i, 2)
    s = "" if i == 0 else str(i + 1)
    xa, ya, lg = "x" + s, "y" + s, "legend" + s
    line_style = dict(color=GREEN, width=4)
    if smooth_panels[i]:
        line_style.update(shape="spline", smoothing=0.6)
    fig.add_trace(go.Scatter(
        x=[p[0] for p in sim], y=[p[1] for p in sim], mode="lines",
        name=NB * 2 + "Simulated" + NB * 6,
        line=line_style, xaxis=xa, yaxis=ya, legend=lg))
    fig.add_trace(go.Scatter(
        x=[p[0] for p in obs], y=[p[1] for p in obs], mode="markers",
        name=NB * 2 + "Observed",
        marker=dict(color=BLUE, size=9, line=dict(color="#000022", width=0.6)),
        xaxis=xa, yaxis=ya, legend=lg))

    layout["xaxis" + s] = dict(
        domain=dom_x(*col_px[c]), range=x_ranges[c], anchor=ya, automargin=False,
        tickvals=year_ticks, ticktext=[str(v) for v in year_ticks], tickangle=0,
        ticks="inside", ticklen=6, tickwidth=1.2, tickcolor="black",
        ticklabelstandoff=-9,
        showline=True, linecolor="black", linewidth=1.6, mirror="ticks",
        showgrid=False, zeroline=False,
        tickfont=dict(family=FONT, size=24.5, color="black"))
    layout["yaxis" + s] = dict(
        domain=dom_y(*row_px[r]), range=[-75, 30], anchor=xa, automargin=False,
        tickvals=elev_ticks, ticktext=[str(v) for v in elev_ticks], tickangle=0,
        ticks="inside", ticklen=6, tickwidth=1.2, tickcolor="black",
        showline=True, linecolor="black", linewidth=1.6,
        mirror="ticks" if c == 0 else False,
        showgrid=True, gridcolor="#7a7a7a", gridwidth=1.4, griddash="1.5px,5px",
        zeroline=False, tickfont=dict(family=FONT, size=25, color="black"))

    top, bot = row_px[r]
    cx = (col_px[0][0] + col_px[0][1]) / 2 + c * 840
    # panel title
    annotations.append(dict(
        text="<b>" + titles[i] + "</b>", xref="paper", yref="paper",
        x=cx / W, y=1 - top / H, xanchor="center", yanchor="bottom",
        yshift=-5, showarrow=False, font=dict(family=FONT, size=38, color="black")))
    # y axis title
    annotations.append(dict(
        text="<b>Groundwater Elevation (feet MSL)</b>", xref="paper", yref="paper",
        x=(19 + c * 841) / W, y=1 - ((top + bot) / 2 + 2) / H, xanchor="center", yanchor="middle",
        textangle=-90, showarrow=False, font=dict(family=FONT, size=28.5, color="black")))
    # vertical dashed marker
    shapes.append(dict(
        type="line", xref=xa, yref=ya + " domain", x0=split_year, x1=split_year, y0=0, y1=1,
        line=dict(color="#606060", width=3, dash="12px,7px")))

    # legend frame (drawn as a shape so its size matches; the legend sits on it)
    lx0, lx1, ly0, ly1 = legend_box
    dx, dy = c * 840, r * 618
    shapes.append(dict(
        type="rect", xref="paper", yref="paper", layer="above",
        x0=(lx0 + dx) / W, x1=(lx1 + dx) / W, y0=1 - (ly1 + dy) / H, y1=1 - (ly0 + dy) / H,
        fillcolor="white", line=dict(color="black", width=1.5)))

    layout[lg] = dict(
        x=(101.5 + dx) / W, y=1 - (540.9 + dy) / H,
        xanchor="left", yanchor="bottom", orientation="h",
        bgcolor="rgba(0,0,0,0)", borderwidth=0,
        font=dict(family=FONT, size=25, color="black"),
        itemwidth=50, tracegroupgap=0)

fig.update_layout(
    width=W, height=H, margin=dict(l=0, r=0, t=0, b=0, autoexpand=False),
    paper_bgcolor="white", plot_bgcolor="white",
    font=dict(family=FONT, color="black"),
    annotations=annotations, shapes=shapes, **layout)

fig.write_html("out.html")
